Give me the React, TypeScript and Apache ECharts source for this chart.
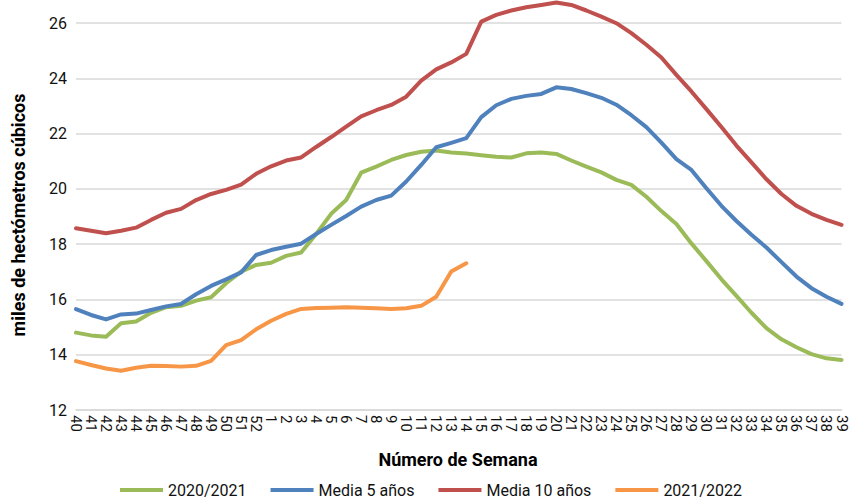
import React, { useEffect, useRef } from "react";
import * as echarts from "echarts";

const weeks: string[] = [
  "40","41","42","43","44","45","46","47","48","49","50","51","52",
  "1","2","3","4","5","6","7","8","9","10","11","12","13","14","15","16","17","18","19","20",
  "21","22","23","24","25","26","27","28","29","30","31","32","33","34","35","36","37","38","39",
];

const s2020_2021: number[] = [
  14.80, 14.70, 14.65, 15.14, 15.20, 15.52, 15.72, 15.77, 15.96, 16.08, 16.59, 17.01, 17.25,
  17.33, 17.58, 17.70, 18.37, 19.10, 19.60, 20.59, 20.81, 21.05, 21.23, 21.35, 21.39, 21.32,
  21.28, 21.22, 21.17, 21.14, 21.29, 21.32, 21.27, 21.03, 20.81, 20.60, 20.33, 20.15, 19.72,
  19.20, 18.73, 18.03, 17.39, 16.73, 16.13, 15.52, 14.96, 14.56, 14.27, 14.02, 13.87, 13.81,
];

const media5: number[] = [
  15.65, 15.44, 15.28, 15.46, 15.49, 15.62, 15.75, 15.84, 16.19, 16.49, 16.73, 16.98, 17.61,
  17.79, 17.91, 18.02, 18.37, 18.70, 19.02, 19.36, 19.60, 19.76, 20.27, 20.87, 21.51, 21.67,
  21.84, 22.60, 23.03, 23.26, 23.37, 23.44, 23.68, 23.62, 23.47, 23.30, 23.05, 22.67, 22.24,
  21.68, 21.08, 20.69, 20.03, 19.39, 18.84, 18.34, 17.88, 17.35, 16.83, 16.41, 16.10, 15.84,
];

const media10: number[] = [
  18.58, 18.49, 18.40, 18.49, 18.60, 18.88, 19.14, 19.28, 19.60, 19.82, 19.97, 20.16, 20.55,
  20.82, 21.03, 21.14, 21.52, 21.88, 22.26, 22.63, 22.85, 23.04, 23.34, 23.92, 24.33, 24.58,
  24.89, 26.06, 26.30, 26.46, 26.58, 26.66, 26.75, 26.66, 26.46, 26.24, 26.00, 25.64, 25.22,
  24.76, 24.13, 23.53, 22.89, 22.24, 21.57, 20.96, 20.35, 19.82, 19.39, 19.10, 18.88, 18.70,
];

const s2021_2022: (number | null)[] = [
  13.77, 13.63, 13.50, 13.42, 13.53, 13.60, 13.59, 13.57, 13.60, 13.78, 14.35, 14.53, 14.92,
  15.23, 15.48, 15.66, 15.69, 15.70, 15.72, 15.70, 15.68, 15.66, 15.68, 15.77, 16.10, 17.01,
  17.31,
];

const seriesNames = ["2020/2021", "Media 5 años", "Media 10 años", "2021/2022"];
const seriesColors = ["#9BBB59", "#4F81BD", "#C0504D", "#F79646"];
const seriesData = [s2020_2021, media5, media10, s2021_2022];

const yTitle = "miles de hectómetros cúbicos";
const xTitle = "Número de Semana";

const FONT = "Roboto, 'Noto Sans', sans-serif";

export default function App() {
  const ref = useRef<HTMLDivElement>(null);

  useEffect(() => {
    document.body.style.margin = "0";
    if (!ref.current) return;
    const chart = echarts.init(ref.current, undefined, { renderer: "svg" });
    chart.setOption({
      animation: false,
      backgroundColor: "#ffffff",
      textStyle: { fontFamily: FONT },
      grid: { left: 76, right: 6, top: 0, bottom: 89, containLabel: false },
      legend: {
        left: 115,
        top: 477,
        itemGap: 24,
        itemWidth: 43,
        itemHeight: 4,
        icon: "rect",
        textStyle: { fontFamily: FONT, fontSize: 16, color: "#111111" },
        data: seriesNames,
      },
      xAxis: {
        type: "category",
        data: weeks,
        boundaryGap: false,
        axisLine: { show: true, lineStyle: { color: "#d9d9d9", width: 1.5 } },
        axisTick: { show: false },
        axisLabel: {
          interval: 0,
          rotate: -90,
          margin: 5,
          fontFamily: FONT,
          fontSize: 15,
          color: "#111111",
        },
        splitLine: { show: false },
      },
      yAxis: {
        type: "value",
        min: 12,
        max: 26.84,
        interval: 2,
        axisLine: { show: false },
        axisTick: { show: false },
        axisLabel: { margin: 9, fontFamily: FONT, fontSize: 16, color: "#111111", showMaxLabel: false },
        splitLine: { show: true, showMaxLine: false, lineStyle: { color: "#d9d9d9", width: 1.5 } },
      },
      graphic: [
        {
          type: "text",
          x: 18,
          y: 215,
          rotation: Math.PI / 2,
          style: {
            text: yTitle,
            fontFamily: FONT,
            fontSize: 18,
            fontWeight: "bold",
            fill: "#000000",
            align: "center",
            verticalAlign: "middle",
          },
        },
        {
          type: "text",
          x: 458,
          y: 459,
          style: {
            text: xTitle,
            fontFamily: FONT,
            fontSize: 18,
            fontWeight: "bold",
            fill: "#000000",
            align: "center",
            verticalAlign: "middle",
          },
        },
      ],
      series: seriesNames.map((name, i) => ({
        name,
        type: "line",
        data: seriesData[i],
        showSymbol: false,
        symbol: "none",
        smooth: false,
        connectNulls: false,
        color: seriesColors[i],
        lineStyle: { color: seriesColors[i], width: 4, cap: "round", join: "round" },
        itemStyle: { color: seriesColors[i] },
        emphasis: { disabled: true },
      })),
    });
    return () => chart.dispose();
  }, []);

  return <div ref={ref} style={{ width: 849, height: 499 }} />;
}
